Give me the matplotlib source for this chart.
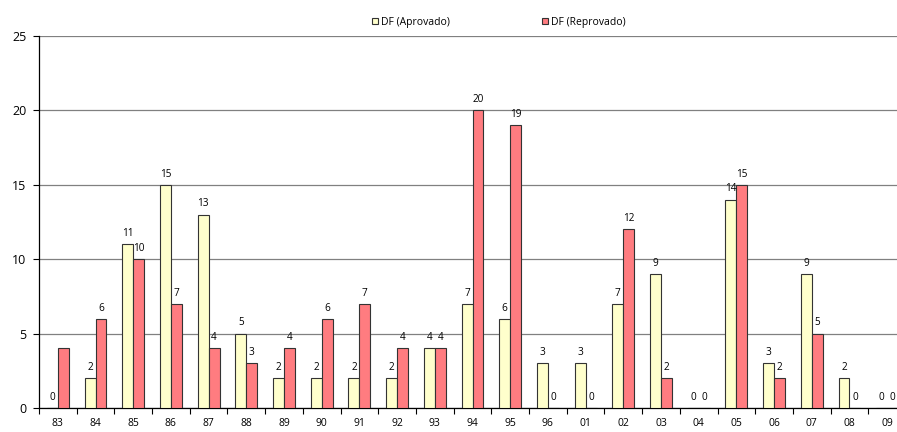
import matplotlib.pyplot as plt
from matplotlib.patches import Patch
import numpy as np

anos = ["83", "84", "85", "86", "87", "88", "89", "90", "91", "92", "93", "94",
        "95", "96", "01", "02", "03", "04", "05", "06", "07", "08", "09"]
aprovado = [0, 2, 11, 15, 13, 5, 2, 2, 2, 2, 4, 7, 6, 3, 3, 7, 9, 0, 14, 3, 9, 2, 0]
reprovado = [4, 6, 10, 7, 4, 3, 4, 6, 7, 4, 4, 20, 19, 0, 0, 12, 2, 0, 15, 2, 5, 0, 0]
# first red bar has no label drawn
rotulo_reprovado = [False] + [True] * 22

cor_apr = "#FFFFCC"
cor_rep = "#FF7C80"

plt.rcParams['font.family'] = ['Open Sans', 'DejaVu Sans']

fig = plt.figure(figsize=(8.97, 4.32), dpi=100)
ax = fig.add_axes([39 / 897, 24 / 432, 867 / 897, 372 / 432])

x = np.arange(len(anos))
w = 0.29
b1 = ax.bar(x - w / 2, aprovado, w, color=cor_apr, edgecolor="#333333", linewidth=0.8, zorder=3)
b2 = ax.bar(x + w / 2, reprovado, w, color=cor_rep, edgecolor="#333333", linewidth=0.8, zorder=3)

for r, v in zip(b1, aprovado):
    ax.text(r.get_x() + r.get_width() / 2, v + 0.35, str(v), ha="center", va="bottom",
            fontsize=7.2, zorder=4)
for r, v, show in zip(b2, reprovado, rotulo_reprovado):
    if show:
        ax.text(r.get_x() + r.get_width() / 2, v + 0.35, str(v), ha="center", va="bottom",
                fontsize=7.2, zorder=4)

ax.set_xlim(-0.5, len(anos) - 0.5)
ax.set_ylim(0, 25)
ax.set_yticks([0, 5, 10, 15, 20, 25])
ax.yaxis.grid(True, color="#808080", linewidth=0.9, zorder=0)
ax.set_axisbelow(True)

# ticks between categories, labels at the centres
ax.set_xticks(np.arange(-0.5, len(anos), 1.0))
ax.set_xticklabels([])
ax.set_xticks(x, minor=True)
ax.set_xticklabels(anos, minor=True, fontsize=7.5)
ax.tick_params(axis="x", which="minor", length=0, pad=7)
ax.tick_params(axis="x", which="major", length=4, width=0.8)
ax.tick_params(axis="y", length=4, width=0.8, labelsize=9, pad=5)

for s in ["top", "right"]:
    ax.spines[s].set_visible(False)
ax.spines["left"].set_linewidth(0.9)
ax.spines["bottom"].set_linewidth(0.9)

handles = [Patch(facecolor=cor_apr, edgecolor="#333333", linewidth=0.8),
           Patch(facecolor=cor_rep, edgecolor="#333333", linewidth=0.8)]
fig.legend(handles, ["DF (Aprovado)", "DF (Reprovado)"], loc="center",
           bbox_to_anchor=(499 / 897, 1 - 22 / 432), ncol=2, frameon=False,
           fontsize=7.5, handlelength=0.6, handleheight=0.6, handletextpad=0.3,
           columnspacing=8.8)

fig.savefig("out.png", dpi=100)
